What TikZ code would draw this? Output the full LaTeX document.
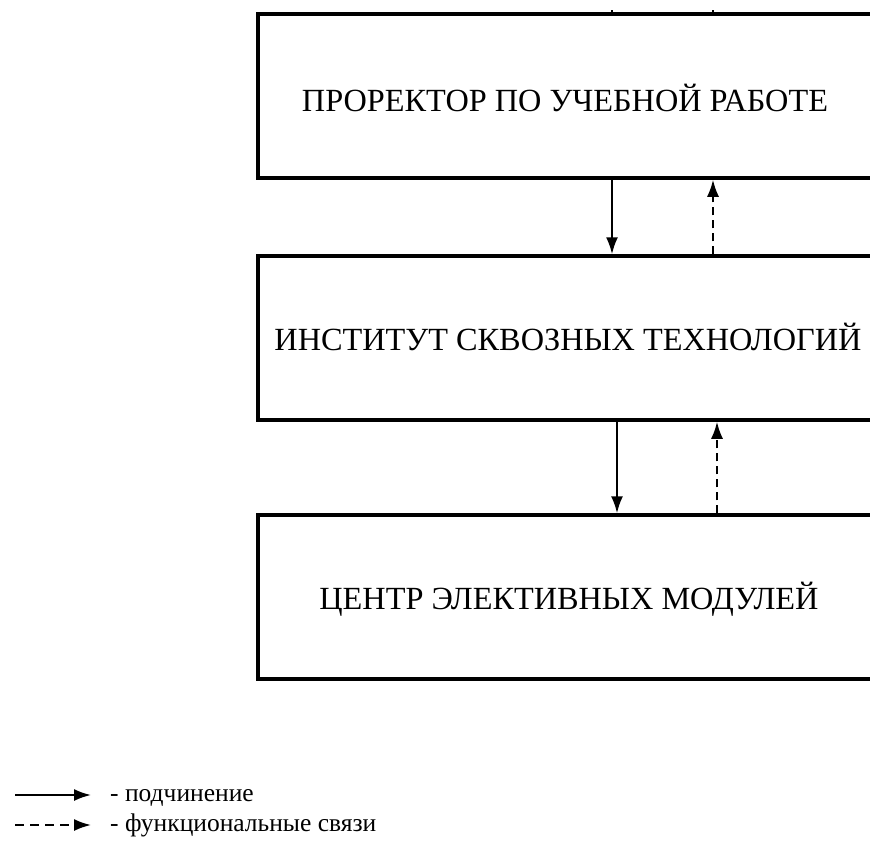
\documentclass[tikz,border=0pt]{standalone}
\usepackage{fontspec}
\setmainfont{Liberation Serif}
\usetikzlibrary{arrows.meta}
\begin{document}
\begin{tikzpicture}[x=1pt,y=-1pt,
  box/.style={draw, line width=3.5pt, rectangle, minimum width=618pt, minimum height=164pt, inner sep=0pt},
  boxtext/.style={font=\fontsize{32.3}{38}\selectfont, inner sep=0pt},
  sub/.style={line width=2pt, -{Latex[length=17pt,width=12pt]}},
  func/.style={line width=2pt, dash pattern=on 8pt off 5pt, -{Latex[length=17pt,width=12pt]}},
  legtext/.style={font=\fontsize{25.5}{30}\selectfont, anchor=base west, inner sep=0pt}]
\path[use as bounding box] (0,0) rectangle (870,841);
\clip (0,0) rectangle (870,841);
\node[box] (b1) at (567,96) {};
\node[box] (b2) at (567,338) {};
\node[box] (b3) at (567,597) {};
\node[boxtext] (t1) at (565,98) {ПРОРЕКТОР ПО УЧЕБНОЙ РАБОТЕ};
\node[boxtext] (t2) at (568,337) {ИНСТИТУТ СКВОЗНЫХ ТЕХНОЛОГИЙ};
\node[boxtext] (t3) at (569,599) {ЦЕНТР ЭЛЕКТИВНЫХ МОДУЛЕЙ};
% small marks on the top edge
\coordinate (m1a) at (612,10); \coordinate (m1b) at (612,14);
\coordinate (m2a) at (713,10); \coordinate (m2b) at (713,14);
\draw[line width=1.2pt] (m1a) -- (m1b);
\draw[line width=1.2pt] (m2a) -- (m2b);
% arrows between boxes
\draw[sub] (b1.south -| 612,0) -- (b2.north -| 612,0);
\draw[func] (b2.north -| 713,0) -- (b1.south -| 713,0);
\draw[sub] (b2.south -| 617,0) -- (b3.north -| 617,0);
\draw[func] (b3.north -| 717,0) -- (b2.south -| 717,0);
% legend
\coordinate (l1a) at (15,795); \coordinate (l1b) at (91,795);
\coordinate (l2a) at (15,825); \coordinate (l2b) at (91,825);
\draw[sub] (l1a) -- (l1b);
\draw[line width=2pt, dash pattern=on 9pt off 6pt, -{Latex[length=17pt,width=12pt]}] (l2a) -- (l2b);
\node[legtext] (lt1) at (110,801) {- подчинение};
\node[legtext] (lt2) at (110,831) {- функциональные связи};
\end{tikzpicture}
\end{document}
